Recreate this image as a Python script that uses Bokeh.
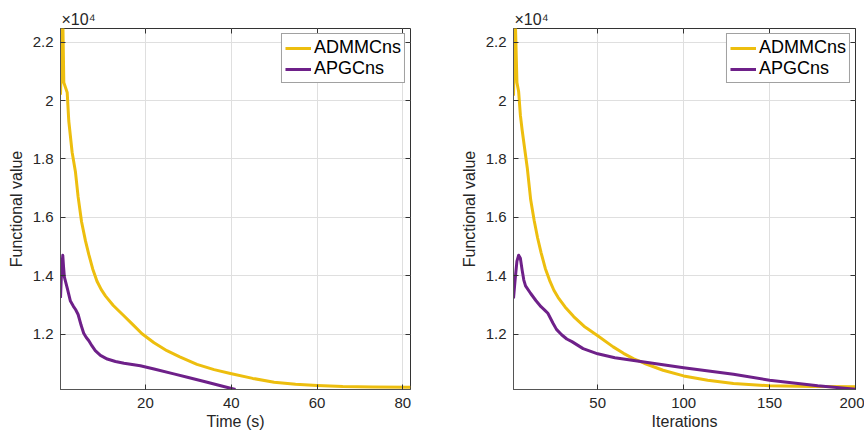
from bokeh.plotting import figure
from bokeh.layouts import row
from bokeh.models import Range1d, FixedTicker, Legend, LegendItem, LinearAxis
from bokeh.embed import file_html
from bokeh.resources import INLINE

# ---- data: left panel (time, s) ----
time_admm = [0.19, 0.72, 0.96, 1.75, 2.12, 2.9, 3.68, 4.3, 5.1, 6.0, 6.8, 7.7, 8.7, 9.7, 10.7,
             12.5, 14.6, 17.0, 19.2, 22.0, 25.0, 28.0, 32.0, 36.0, 39.8, 45.0, 50.0, 55.0,
             60.0, 66.0, 73.0, 81.8]
f_admm_time = [20200, 22900, 20620, 20280, 19300, 18230, 17550, 16700, 15850, 15200, 14720, 14230,
               13810, 13520, 13300, 12980, 12680, 12330, 12010, 11700, 11430, 11220, 10960, 10780,
               10650, 10480, 10350, 10280, 10236, 10200, 10182, 10176]

time_apgc = [0.19, 0.45, 0.72, 0.9, 1.1, 1.75, 2.5, 3.2, 3.7, 4.3, 5.0, 5.6, 6.2, 6.8, 7.5, 8.3,
             9.5, 11.1, 13.0, 15.0, 18.8, 22.0, 26.6, 30.0, 34.4, 38.0, 41.0]
f_apgc_time = [13240, 14200, 14700, 14300, 13950, 13580, 13130, 12950, 12840, 12670, 12300, 12030,
               11880, 11770, 11600, 11430, 11270, 11143, 11060, 11000, 10916, 10800, 10634, 10510,
               10348, 10210, 10100]

# ---- data: right panel (iterations) ----
iter_admm = [1, 2, 3, 4, 5, 6, 9, 11, 13, 15, 17, 19.5, 22, 24.5, 27, 31, 36, 42, 50, 59, 65, 71,
             77, 88, 100, 114, 129, 150, 175, 200]
f_admm_iter = [20170, 22900, 20620, 20300, 19500, 19000, 17700, 16600, 15900, 15300, 14800, 14250,
               13840, 13500, 13250, 12930, 12600, 12270, 11940, 11560, 11340, 11150, 11000, 10760,
               10566, 10420, 10304, 10226, 10200, 10192]

iter_apgc = [1, 2, 3, 4, 5, 6, 7, 8, 11, 14, 17, 19, 21, 24, 26, 29, 32, 35, 41.5, 50, 60, 77,
             100, 129, 150, 178, 200]
f_apgc_iter = [13220, 13900, 14500, 14700, 14600, 14200, 13850, 13650, 13390, 13150, 12938, 12830,
               12711, 12372, 12160, 11976, 11830, 11740, 11500, 11322, 11190, 11040, 10847, 10621,
               10417, 10226, 10111]

y_ticks = [12000, 14000, 16000, 18000, 20000, 22000]
y_tick_labels = ["1.2", "1.4", "1.6", "1.8", "2", "2.2"]
x_ticks_time = [20, 40, 60, 80]
x_ticks_iter = [50, 100, 150, 200]
series_names = ["ADMMCns", "APGCns"]

YELLOW = "#EDBE0E"
PURPLE = "#6E2089"
FONT = "Liberation Sans"
TXT = "#262626"
Y0, Y1 = 10100, 22470


def mirror_axis(ticks):
    ax = LinearAxis(ticker=FixedTicker(ticks=ticks),
                    major_label_overrides={t: "" for t in ticks},
                    major_label_standoff=0, major_label_text_font_size="1px",
                    major_tick_in=5, major_tick_out=0, minor_tick_line_color=None,
                    axis_line_color=None, major_tick_line_color="#333333")
    return ax


def panel(xa, ya, xb, yb, xr, xticks, xlabel, width, bl, br, bt, bb):
    p = figure(width=width, height=432, output_backend="svg", toolbar_location=None,
               x_range=Range1d(*xr), y_range=Range1d(Y0, Y1),
               min_border_left=bl, min_border_right=br, min_border_top=bt, min_border_bottom=bb)
    p.background_fill_color = "white"
    p.border_fill_color = "white"
    p.outline_line_color = "#333333"
    p.outline_line_width = 1

    p.title.text = "\u00d710\u2074"
    p.title.align = "left"
    p.title.text_font = FONT
    p.title.text_font_size = "16px"
    p.title.text_font_style = "normal"
    p.title.text_color = TXT
    p.title.standoff = 1
    p.title.offset = 1

    r1 = p.line(xa, ya, line_color=YELLOW, line_width=3, line_join="round")
    r2 = p.line(xb, yb, line_color=PURPLE, line_width=3, line_join="round")

    p.xaxis.ticker = FixedTicker(ticks=xticks)
    p.yaxis.ticker = FixedTicker(ticks=y_ticks)
    p.yaxis.major_label_overrides = {t: l for t, l in zip(y_ticks, y_tick_labels)}
    for ax in (p.xaxis[0], p.yaxis[0]):
        ax.major_tick_in = 5
        ax.major_tick_out = 0
        ax.minor_tick_line_color = None
        ax.axis_line_color = "#555555"
        ax.major_tick_line_color = "#333333"
        ax.major_label_text_font = FONT
        ax.major_label_text_font_size = "15px"
        ax.major_label_text_color = TXT
        ax.axis_label_text_font = FONT
        ax.axis_label_text_font_size = "16px"
        ax.axis_label_text_font_style = "normal"
        ax.axis_label_text_color = TXT
    p.xaxis.axis_label = xlabel
    p.yaxis.axis_label = "Functional value"
    p.xaxis.major_label_standoff = 8
    p.xaxis.axis_label_standoff = 2
    p.yaxis.major_label_standoff = 7
    p.yaxis.axis_label_standoff = 5

    p.add_layout(mirror_axis(y_ticks), "right")
    p.add_layout(mirror_axis(xticks), "above")

    p.grid.grid_line_color = "#DFDFDF"
    p.grid.grid_line_width = 1

    legend = Legend(items=[LegendItem(label=series_names[0], renderers=[r1]),
                           LegendItem(label=series_names[1], renderers=[r2])],
                    location="top_right")
    legend.label_text_font = FONT
    legend.label_text_font_size = "18px"
    legend.label_text_color = "#000000"
    legend.glyph_width = 26
    legend.glyph_height = 18
    legend.label_height = 18
    legend.label_standoff = 3
    legend.spacing = 0
    legend.padding = 3
    legend.margin = 5
    legend.border_line_color = "#444444"
    legend.border_line_width = 1
    legend.background_fill_alpha = 1
    p.add_layout(legend)
    return p


p1 = panel(time_admm, f_admm_time, time_apgc, f_apgc_time, (0.19, 81.8), x_ticks_time,
           "Time (s)", 432, 60, 22, 25, 43)
p2 = panel(iter_admm, f_admm_iter, iter_apgc, f_apgc_iter, (1, 200), x_ticks_iter,
           "Iterations", 432, 81, 9, 28, 40)

layout = row(p1, p2)
open("out.html", "w").write(file_html(layout, INLINE))
